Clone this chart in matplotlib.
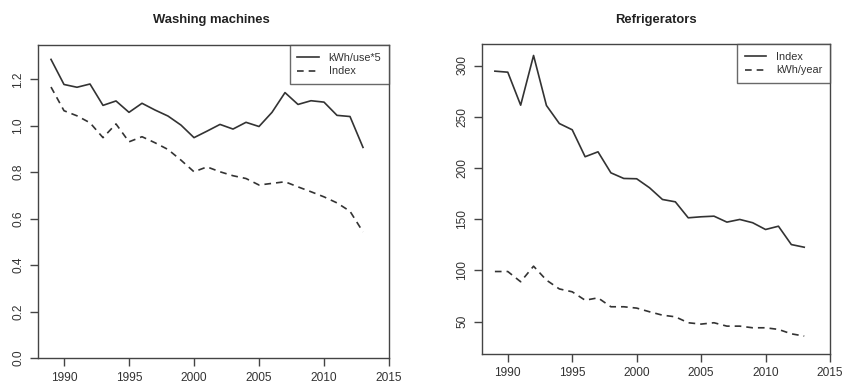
import numpy as np
import matplotlib.pyplot as plt

plt.rcParams['font.family'] = ['Liberation Sans', 'DejaVu Sans']

## data
years = list(range(1989, 2014))

# washing machines
wm_kwh5 = [1.286, 1.178, 1.166, 1.180, 1.088, 1.107, 1.058, 1.097, 1.068, 1.042,
           1.003, 0.949, 0.977, 1.006, 0.986, 1.015, 0.997, 1.058, 1.143, 1.092,
           1.108, 1.102, 1.045, 1.040, 0.907]
wm_index = [1.167, 1.065, 1.043, 1.013, 0.949, 1.008, 0.931, 0.953, 0.927, 0.898,
            0.852, 0.802, 0.823, 0.802, 0.785, 0.773, 0.745, 0.752, 0.759, 0.737,
            0.716, 0.694, 0.668, 0.632, 0.543]

# refrigerators
rf_index = [294.5, 293.5, 261.3, 309.8, 261.0, 243.4, 237.3, 211.0, 215.8, 195.3,
            189.8, 189.5, 180.7, 169.3, 167.0, 151.4, 152.4, 153.0, 147.2, 149.8,
            146.6, 140.0, 143.2, 125.3, 122.7]
rf_kwh = [99.0, 99.0, 89.0, 104.2, 90.6, 82.0, 79.2, 71.0, 73.3, 64.6,
          64.6, 63.3, 59.7, 56.4, 54.8, 49.0, 47.7, 49.0, 45.7, 45.7,
          44.1, 44.1, 42.5, 38.2, 36.0]

xticks = [1990, 1995, 2000, 2005, 2010, 2015]

line_col = '#333333'
axis_col = '#444444'
text_col = '#333333'

fig = plt.figure(figsize=(8.44, 3.85), dpi=100)
W, H = 844, 385

def make_axes(left, top, right, bottom):
    return fig.add_axes([left / W, 1 - bottom / H, (right - left) / W, (bottom - top) / H])

def style(ax, yticks, ylabels):
    for s in ax.spines.values():
        s.set_color(axis_col)
        s.set_linewidth(1.0)
    ax.set_xlim(1988, 2015)
    ax.set_xticks(xticks)
    ax.set_xticklabels([str(t) for t in xticks], fontsize=8.6, color=text_col)
    ax.set_yticks(yticks)
    ax.set_yticklabels(ylabels, fontsize=8.6, color=text_col, rotation=90, va='center')
    ax.tick_params(length=5.5, width=1.0, color=axis_col)
    ax.tick_params(axis='x', pad=4.5)
    ax.tick_params(axis='y', pad=4.5)

def legend(ax, labels):
    leg = ax.legend(labels, loc='upper right', fontsize=7.8, frameon=True, fancybox=False,
                    borderaxespad=0, handlelength=2.0, handletextpad=0.9,
                    borderpad=0.7, labelspacing=0.35, labelcolor=text_col)
    leg.get_frame().set_edgecolor(axis_col)
    leg.get_frame().set_linewidth(1.0)

## washing machines
ax1 = make_axes(38, 45, 389, 358)
ax1.plot(years, wm_kwh5, color=line_col, lw=1.2)
ax1.plot(years, wm_index, color=line_col, lw=1.2, dashes=(4, 3))
ax1.set_ylim(0, 1.348)
style(ax1, [0.0, 0.2, 0.4, 0.6, 0.8, 1.0, 1.2],
      ['0.0', '0.2', '0.4', '0.6', '0.8', '1.0', '1.2'])
legend(ax1, ['kWh/use*5', 'Index'])
fig.text(211 / W, 1 - 20 / H, 'Washing machines', ha='center', va='center',
         fontsize=9.4, fontweight='bold', color='#222222')

## refrigerators
ax2 = make_axes(482, 44, 830, 353.5)
ax2.plot(years, rf_index, color=line_col, lw=1.2)
ax2.plot(years, rf_kwh, color=line_col, lw=1.2, dashes=(4, 3))
ax2.set_ylim(19, 321)
style(ax2, [50, 100, 150, 200, 250, 300],
      ['50', '100', '150', '200', '250', '300'])
legend(ax2, ['Index', 'kWh/year'])
fig.text(656 / W, 1 - 20 / H, 'Refrigerators', ha='center', va='center',
         fontsize=9.4, fontweight='bold', color='#222222')

fig.savefig('out.png', dpi=100)
